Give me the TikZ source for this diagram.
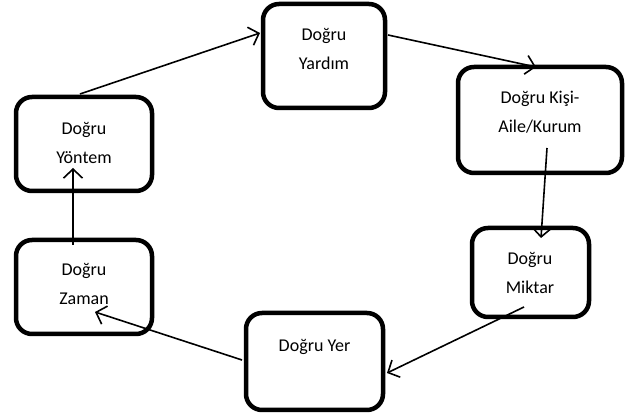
\documentclass[tikz,border=0pt]{standalone}
\usepackage{fontspec}
\setmainfont{Carlito}
\usetikzlibrary{arrows.meta,calc}
\begin{document}
\begin{tikzpicture}[x=1pt,y=1pt,
  box/.style={draw,line width=4.5pt,rounded corners=16pt,inner sep=0pt},
  lbl/.style={align=center,font=\fontsize{18}{29}\selectfont,inner sep=0pt},
  arr/.style={line width=1.6pt,-{Straight Barb[length=9pt,width=19pt,line width=1.6pt]}}]
\useasboundingbox (0,0) rectangle (626,419);
% boxes
\node[box,minimum width=122pt,minimum height=104pt] (yardim) at (324,363) {};
\node[box,minimum width=164pt,minimum height=106pt] (kisi) at (540,299) {};
\node[box,minimum width=136pt,minimum height=94pt] (yontem) at (84,275) {};
\node[box,minimum width=136pt,minimum height=94pt] (zaman) at (84,132) {};
\node[box,minimum width=117pt,minimum height=89pt] (miktar) at (530.5,146.5) {};
\node[box,minimum width=137pt,minimum height=97pt] (yer) at (314.5,57.5) {};
% labels
\node[lbl] (tyardim) at (324,370) {Doğru\\Yardım};
\node[lbl] (tkisi) at (540,306.5) {Doğru Kişi-\\Aile/Kurum};
\node[lbl] (tyontem) at (84,276.5) {Doğru\\Yöntem};
\node[lbl] (tzaman) at (84,135) {Doğru\\Zaman};
\node[lbl] (tmiktar) at (530,146.5) {Doğru\\Miktar};
\node[lbl] (tyer) at (314.5,72) {Doğru Yer};
% connectors
\draw[arr] ($(yontem.center)+(-4,50)$) -- ($(yardim.center)+(-64,23)$);
\draw[arr] ($(yardim.center)+(64,21)$) -- ($(kisi.center)+(-4,53)$);
\draw[arr] ($(kisi.center)+(7,-28)$) -- ($(miktar.center)+(10.5,34.5)$);
\draw[arr] ($(miktar.center)+(-6.5,-34.5)$) -- ($(yer.center)+(72.5,-11.5)$);
\draw[arr] ($(yer.center)+(-72.5,1.5)$) -- ($(zaman.center)+(11,-25)$);
\draw[arr] ($(zaman.center)+(-11,42)$) -- ($(yontem.center)+(-11,-24)$);
\end{tikzpicture}
\end{document}
